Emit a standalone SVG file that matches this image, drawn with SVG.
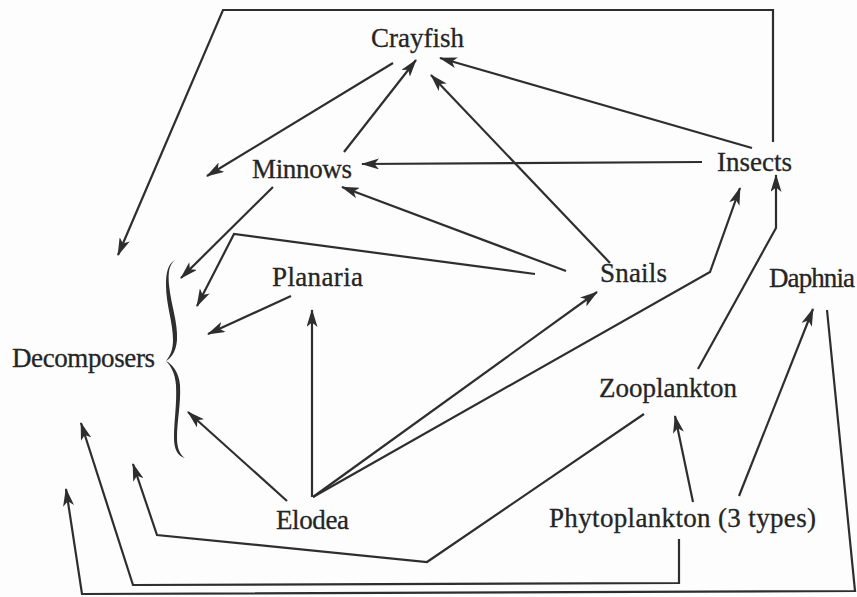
<svg xmlns="http://www.w3.org/2000/svg" width="857" height="597" viewBox="0 0 857 597">
<defs>
<style>
.lbl{font-family:"Liberation Serif","Times New Roman",serif;font-size:27px;fill:#252525;stroke:#252525;stroke-width:0.3;}
.c{fill:none;stroke:#2e2e2e;stroke-width:2.2;stroke-linejoin:miter;}
.a{marker-end:url(#arr);}
</style>
<marker id="arr" viewBox="0 0 18 11" refX="17" refY="5.5" markerWidth="18" markerHeight="11" markerUnits="userSpaceOnUse" orient="auto">
<path d="M0,0 L18,5.5 L0,11 L4.5,5.5 Z" fill="#2e2e2e"/>
</marker>
</defs>
<rect width="857" height="597" fill="#fdfdfd"/>
<g id="connectors">
<path class="c a" d="M773,142 V10 H223 L118,255"/>
<path class="c a" d="M393,63 L207,176"/>
<path class="c a" d="M344,152 L416,60"/>
<path class="c a" d="M752,148 L440,58"/>
<path class="c a" d="M610,263 L431,75"/>
<path class="c a" d="M702,162 L362,164"/>
<path class="c a" d="M566,271 L342,187"/>
<path class="c a" d="M535,274 L234,234 L197,306"/>
<path class="c a" d="M273,187 L181,278"/>
<path class="c a" d="M291,296 L208,334"/>
<path class="c a" d="M287,501 L188,412"/>
<path class="c a" d="M312,497 L312,310"/>
<path class="c a" d="M313,497 L597,292"/>
<path class="c a" d="M313,497 L710,272 L740,188"/>
<path class="c a" d="M698,369 L776,228 L776,175"/>
<path class="c a" d="M739,496 L813,309"/>
<path class="c a" d="M827,310 L855,591 L82,594 L66,489"/>
<path class="c a" d="M679,539 V583 L133,585 L81,423"/>
<path class="c a" d="M644,414 L427,562 L157,535 L133,464"/>
<path class="c a" d="M693,502 L675,416"/>
</g>
<g id="crayfish"><text class="lbl" x="371" y="47" textLength="93">Crayfish</text></g>
<g id="minnows"><text class="lbl" x="252" y="178" textLength="100">Minnows</text></g>
<g id="insects"><text class="lbl" x="717" y="171" textLength="75">Insects</text></g>
<g id="planaria"><text class="lbl" x="272" y="286" textLength="91">Planaria</text></g>
<g id="snails"><text class="lbl" x="600" y="282" textLength="67">Snails</text></g>
<g id="daphnia"><text class="lbl" x="769" y="287" textLength="86">Daphnia</text></g>
<g id="decomposers">
<text class="lbl" x="12" y="367" textLength="143">Decomposers</text>
<path fill="#2e2e2e" d="M175,260 C169,265 168,272 169,285 C171,305 178,322 177,340 C176,352 171,358 166,361 C170,356 173,350 173,340 C173,322 166,305 166,285 C166,272 168,264 175,260 Z"/>
<path fill="#2e2e2e" d="M166,361 C172,364 179,372 180,385 C181,405 177,420 177,438 C177,448 180,455 185,458 C177,456 174,448 174,438 C174,420 177,405 176,385 C175,372 170,365 166,361 Z"/>
</g>
<g id="zooplankton"><text class="lbl" x="599" y="397" textLength="138">Zooplankton</text></g>
<g id="elodea"><text class="lbl" x="276" y="529" textLength="73">Elodea</text></g>
<g id="phytoplankton"><text class="lbl" x="549" y="527" textLength="267">Phytoplankton (3 types)</text></g>
</svg>
